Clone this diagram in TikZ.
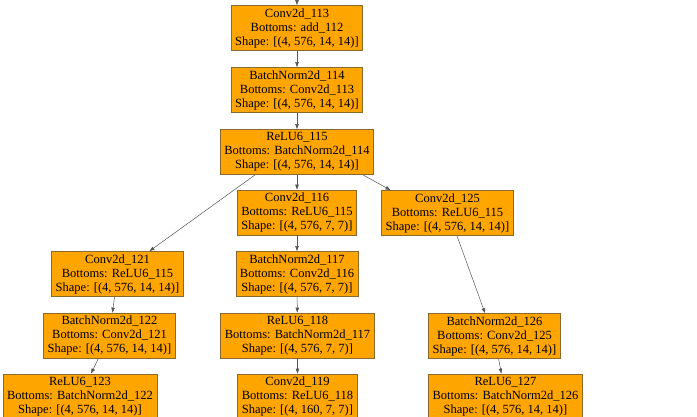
\documentclass[tikz,border=0pt]{standalone}
\usepackage{fontspec}
\setmainfont{Liberation Serif}
\usepackage{tikz}
\usetikzlibrary{arrows.meta}
\usetikzlibrary{positioning}

\definecolor{boxfill}{HTML}{FFA500}
\definecolor{boxline}{HTML}{8A6A2A}
\definecolor{edgeline}{HTML}{555555}

\begin{document}
\begin{tikzpicture}[x=1pt, y=-1pt,
    lyr/.style={draw=boxline, fill=boxfill, line width=0.8pt, align=center,
      inner xsep=4pt, inner ysep=0pt, minimum height=45pt,
      font=\fontsize{12.5}{14}\selectfont},
    edge/.style={draw=edgeline, line width=0.5pt, -{Triangle[length=5pt,width=3.5pt]}}]
      \useasboundingbox (0, 0) rectangle (697, 417);
      % main trunk
      \node[lyr] (conv113) at (297, 28) {Conv2d\_113\\Bottoms: add\_112\\Shape: [(4, 576, 14, 14)]};
      \node[lyr] (bn114) at (297, 90) {BatchNorm2d\_114\\Bottoms: Conv2d\_113\\Shape: [(4, 576, 14, 14)]};
      \node[lyr] (relu115) at (297, 152) {ReLU6\_115\\Bottoms: BatchNorm2d\_114\\Shape: [(4, 576, 14, 14)]};
      % middle branch
      \node[lyr] (conv116) at (297, 212.5) {Conv2d\_116\\Bottoms: ReLU6\_115\\Shape: [(4, 576, 7, 7)]};
      \node[lyr] (bn117) at (297, 274) {BatchNorm2d\_117\\Bottoms: Conv2d\_116\\Shape: [(4, 576, 7, 7)]};
      \node[lyr] (relu118) at (297.5, 335.5) {ReLU6\_118\\Bottoms: BatchNorm2d\_117\\Shape: [(4, 576, 7, 7)]};
      \node[lyr] (conv119) at (297.5, 396.5) {Conv2d\_119\\Bottoms: ReLU6\_118\\Shape: [(4, 160, 7, 7)]};
      % left branch
      \node[lyr] (conv121) at (117.5, 274) {Conv2d\_121\\Bottoms: ReLU6\_115\\Shape: [(4, 576, 14, 14)]};
      \node[lyr] (bn122) at (109.5, 335.5) {BatchNorm2d\_122\\Bottoms: Conv2d\_121\\Shape: [(4, 576, 14, 14)]};
      \node[lyr] (relu123) at (80, 396.5) {ReLU6\_123\\Bottoms: BatchNorm2d\_122\\Shape: [(4, 576, 14, 14)]};
      % right branch
      \node[lyr] (conv125) at (447.5, 213) {Conv2d\_125\\Bottoms: ReLU6\_115\\Shape: [(4, 576, 14, 14)]};
      \node[lyr] (bn126) at (494.5, 336) {BatchNorm2d\_126\\Bottoms: Conv2d\_125\\Shape: [(4, 576, 14, 14)]};
      \node[lyr] (relu127) at (505.5, 396.5) {ReLU6\_127\\Bottoms: BatchNorm2d\_126\\Shape: [(4, 576, 14, 14)]};
      \coordinate (add112) at (297, -4);

      \draw[edge] (add112) -- (conv113);
      \draw[edge] (conv113) -- (bn114);
      \draw[edge] (bn114) -- (relu115);
      \draw[edge] (relu115) -- (conv116);
      \draw[edge] ([xshift=-42pt]relu115.south) -- ([xshift=32pt]conv121.north);
      \draw[edge] ([xshift=66pt]relu115.south) -- ([xshift=-57pt]conv125.north);
      \draw[edge] (conv116) -- (bn117);
      \draw[edge] (bn117) -- (relu118);
      \draw[edge] (relu118) -- (conv119);
      \draw[edge] (conv121) -- (bn122);
      \draw[edge] (bn122) -- (relu123);
      \draw[edge] ([xshift=9.5pt]conv125.south) -- ([xshift=-9.5pt]bn126.north);
      \draw[edge] (bn126) -- (relu127);
\end{tikzpicture}
\end{document}
